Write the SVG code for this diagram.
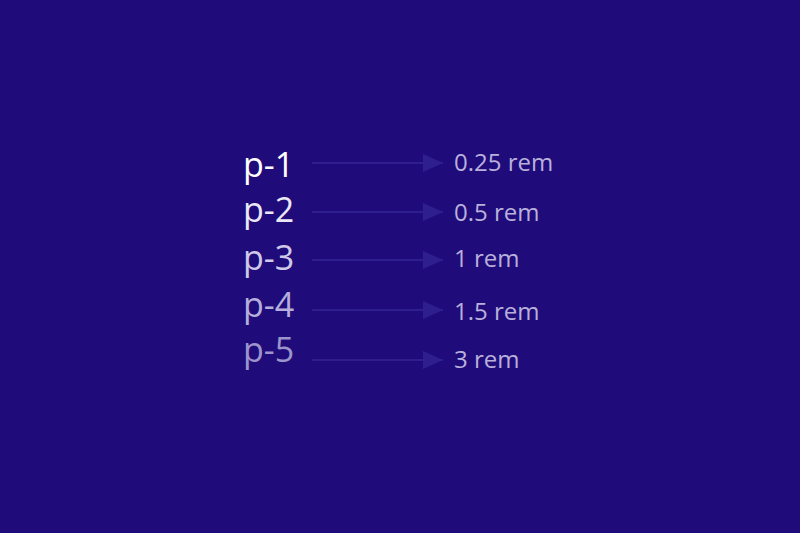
<svg xmlns="http://www.w3.org/2000/svg" width="800" height="533" viewBox="0 0 800 533">
<style>
.lbl{font-family:"Open Sans","Noto Sans",sans-serif;font-size:34px}
.val{font-family:"Open Sans","Noto Sans",sans-serif;font-size:24px;fill:#b9b0dc}
.arr{stroke:#2f1f8e;stroke-width:2;fill:none}
.head{fill:#2f1f8e}
</style>
<defs>
<marker id="ah" viewBox="0 0 20 18" refX="20" refY="9" markerWidth="20" markerHeight="18" markerUnits="userSpaceOnUse" orient="auto"><path d="M0,0 L20,9 L0,18 Z" class="head"/></marker>
</defs>
<rect width="800" height="533" fill="#1f0c7a"/>
<g id="connectors">
<line class="arr" x1="312" y1="163" x2="443" y2="163" marker-end="url(#ah)"/>
<line class="arr" x1="312" y1="212" x2="443" y2="212" marker-end="url(#ah)"/>
<line class="arr" x1="312" y1="260" x2="443" y2="260" marker-end="url(#ah)"/>
<line class="arr" x1="312" y1="310" x2="443" y2="310" marker-end="url(#ah)"/>
<line class="arr" x1="312" y1="360" x2="443" y2="360" marker-end="url(#ah)"/>
</g>
<g id="p1"><text class="lbl" x="243" y="177" fill="#ffffff">p-1</text></g>
<g id="p2"><text class="lbl" x="243" y="222" fill="#ebe8f6">p-2</text></g>
<g id="p3"><text class="lbl" x="243" y="270" fill="#cfc8e8">p-3</text></g>
<g id="p4"><text class="lbl" x="243" y="317" fill="#b6aedc">p-4</text></g>
<g id="p5"><text class="lbl" x="243" y="362" fill="#9d94cc">p-5</text></g>
<g id="v1"><text class="val" x="454" y="171">0.25 rem</text></g>
<g id="v2"><text class="val" x="454" y="221">0.5 rem</text></g>
<g id="v3"><text class="val" x="454" y="267">1 rem</text></g>
<g id="v4"><text class="val" x="454" y="320">1.5 rem</text></g>
<g id="v5"><text class="val" x="454" y="368">3 rem</text></g>
</svg>
